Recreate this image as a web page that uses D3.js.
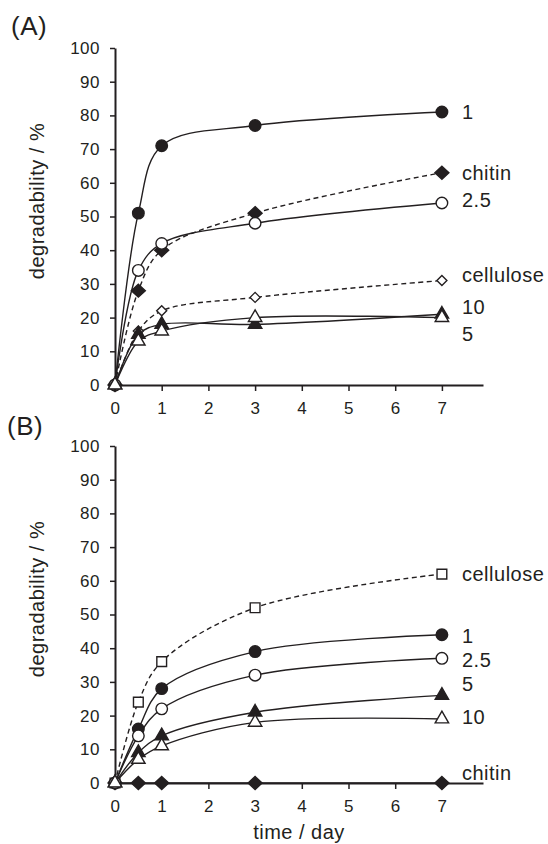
<!DOCTYPE html>
<html>
<head>
<meta charset="utf-8">
<script src="https://cdn.jsdelivr.net/npm/d3@7"></script>
<style>
  body { margin: 0; background: #fff; }
  svg { display: block; font-family: "Liberation Sans", Arial, sans-serif; }
  text { fill: #231f20; letter-spacing: 0.5px; }
</style>
</head>
<body>
<div id="chart"></div>
<script>
// sampling times (days), shared by both panels
const days = [0, 0.5, 1, 3, 7];
const xTicks = [0, 1, 2, 3, 4, 5, 6, 7];
const yTicks = [0, 10, 20, 30, 40, 50, 60, 70, 80, 90, 100];

// panel (A)
const a1 = [0, 51, 71, 77, 81];
const aChitin = [0, 28, 40, 51, 63];
const a25 = [0, 34, 42, 48, 54];
const aCellulose = [0, 16, 22, 26, 31];
const a5 = [0, 15, 18, 18, 21];
const a10 = [0, 13, 16, 20, 20];
const aNames = ["1", "chitin", "2.5", "cellulose", "5", "10"];
const aLabelAt = [81, 63, 55, 32.5, 15, 23];

// panel (B)
const bCellulose = [0, 24, 36, 52, 62];
const b1 = [0, 16, 28, 39, 44];
const b25 = [0, 14, 22, 32, 37];
const b5 = [0, 9, 14, 21, 26];
const b10 = [0, 7, 11, 18, 19];
const bChitin = [0, 0, 0, 0, 0];
const bNames = ["cellulose", "1", "2.5", "5", "10", "chitin"];
const bLabelAt = [62, 43.5, 36.5, 29.5, 19.5, 3];

const width = 548, height = 844;
const ink = "#231f20";

const svg = d3.select("#chart").append("svg")
    .attr("width", width)
    .attr("height", height);

// marker shapes
function markerPath(type) {
    if (type === "circle") return d3.symbol(d3.symbolCircle, 105)();
    if (type === "triangle") return d3.symbol(d3.symbolTriangle, 78)();
    if (type === "square") return d3.symbol(d3.symbolSquare, 95)();
    if (type === "diamond") return "M0,-6.5L7,0L0,6.5L-7,0Z";
    if (type === "smalldiamond") return "M0,-5L5,0L0,5L-5,0Z";
}

function drawPanel(opts) {
    const g = svg.append("g");

    const x = d3.scaleLinear().domain([0, 7.88]).range([115, 483]);
    const y = d3.scaleLinear().domain([0, 100]).range([opts.y0, opts.y0 - 337]);

    const xAxis = g.append("g")
        .attr("transform", `translate(0,${opts.y0})`)
        .call(d3.axisBottom(x).tickValues(xTicks).tickSize(6).tickSizeOuter(0).tickPadding(11));
    const yAxis = g.append("g")
        .attr("transform", "translate(115,0)")
        .call(d3.axisLeft(y).tickValues(yTicks).tickSize(5).tickSizeOuter(0).tickPadding(10));

    [xAxis, yAxis].forEach(ax => {
        ax.selectAll(".domain").attr("stroke", ink).attr("stroke-width", 2);
        ax.selectAll(".tick line").attr("stroke", ink).attr("stroke-width", 1.5);
        ax.selectAll(".tick text")
            .attr("font-family", null)
            .style("font-size", "17px")
            .attr("fill", ink);
    });

    const line = d3.line()
        .x((d, i) => x(days[i]))
        .y(d => y(d))
        .curve(d3.curveCatmullRom.alpha(0.5));

    opts.series.forEach(s => {
        g.append("path")
            .datum(s.values)
            .attr("fill", "none")
            .attr("stroke", ink)
            .attr("stroke-width", 1.4)
            .attr("stroke-dasharray", s.dashed ? "5,3.5" : null)
            .attr("d", line);
    });

    opts.series.forEach(s => {
        g.selectAll(null)
            .data(s.values)
            .enter()
            .append("path")
            .attr("transform", (d, i) => `translate(${x(days[i])},${y(d)})`)
            .attr("d", markerPath(s.marker))
            .attr("fill", s.filled ? ink : "#fff")
            .attr("stroke", ink)
            .attr("stroke-width", 1.4);
    });

    // series names at the right end
    opts.names.forEach((name, i) => {
        g.append("text")
            .attr("x", 462)
            .attr("y", y(opts.labelAt[i]))
            .attr("dy", "0.35em")
            .style("font-size", "20px")
            .text(name);
    });

    // y axis title
    g.append("text")
        .attr("transform", `translate(44,${opts.titleY}) rotate(-90)`)
        .attr("text-anchor", "middle")
        .style("font-size", "20px")
        .text("degradability / %");

    // panel letter
    g.append("text")
        .attr("x", opts.letterX)
        .attr("y", opts.letterY)
        .style("font-size", "26px")
        .text(opts.letter);
}

drawPanel({
    y0: 385,
    titleY: 201,
    letter: "(A)", letterX: 11, letterY: 35,
    names: aNames,
    labelAt: aLabelAt,
    series: [
        { values: a1, marker: "circle", filled: true },
        { values: aChitin, marker: "diamond", filled: true, dashed: true },
        { values: a25, marker: "circle", filled: false },
        { values: aCellulose, marker: "smalldiamond", filled: false, dashed: true },
        { values: a5, marker: "triangle", filled: true },
        { values: a10, marker: "triangle", filled: false }
    ]
});

drawPanel({
    y0: 783,
    titleY: 599,
    letter: "(B)", letterX: 7, letterY: 435,
    names: bNames,
    labelAt: bLabelAt,
    series: [
        { values: bChitin, marker: "diamond", filled: true },
        { values: bCellulose, marker: "square", filled: false, dashed: true },
        { values: b1, marker: "circle", filled: true },
        { values: b25, marker: "circle", filled: false },
        { values: b5, marker: "triangle", filled: true },
        { values: b10, marker: "triangle", filled: false }
    ]
});

svg.append("text")
    .attr("x", 299)
    .attr("y", 839)
    .attr("text-anchor", "middle")
    .style("font-size", "20px")
    .text("time / day");
</script>
</body>
</html>
